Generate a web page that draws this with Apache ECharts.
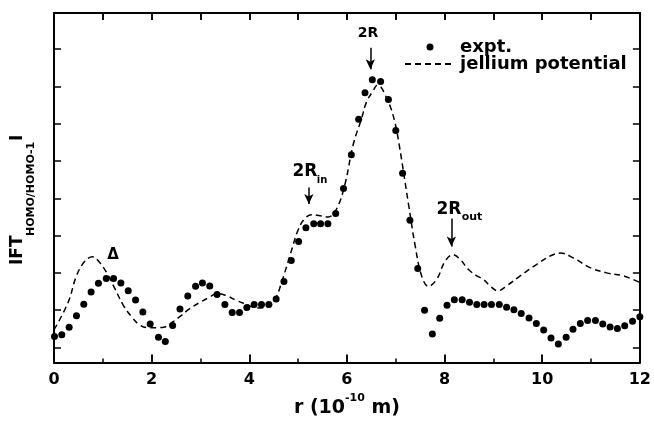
<!DOCTYPE html>
<html>
<head>
<meta charset="utf-8">
<script src="https://cdn.jsdelivr.net/npm/echarts@6/dist/echarts.min.js"></script>
<style>
  html, body { margin: 0; padding: 0; background: #fff; }
  #chart { width: 654px; height: 423px; }
</style>
</head>
<body>
<div id="chart"></div>
<script>
// experimental points (r in 1e-10 m, |FT| in tick units)
var exptR = [0.01, 0.16, 0.31, 0.46, 0.61, 0.76, 0.91, 1.07, 1.22, 1.37, 1.52, 1.67, 1.82, 1.97,
    2.14, 2.28, 2.43, 2.58, 2.74, 2.90, 3.04, 3.19, 3.34, 3.50, 3.65, 3.80, 3.95, 4.10, 4.25,
    4.40, 4.55, 4.71, 4.86, 5.01, 5.16, 5.32, 5.46, 5.61, 5.77, 5.93, 6.09, 6.24, 6.37, 6.52,
    6.69, 6.85, 7.00, 7.14, 7.29, 7.45, 7.59, 7.75, 7.90, 8.05, 8.20, 8.36, 8.51, 8.66, 8.81,
    8.96, 9.12, 9.27, 9.42, 9.57, 9.73, 9.88, 10.03, 10.18, 10.33, 10.49, 10.63, 10.78, 10.93,
    11.09, 11.24, 11.39, 11.54, 11.69, 11.85, 12.00];
var exptFT = [0.29, 0.34, 0.54, 0.85, 1.16, 1.49, 1.72, 1.85, 1.85, 1.73, 1.52, 1.27, 0.95, 0.63,
    0.27, 0.16, 0.59, 1.03, 1.38, 1.64, 1.73, 1.65, 1.42, 1.15, 0.94, 0.94, 1.07, 1.15, 1.15,
    1.15, 1.30, 1.77, 2.33, 2.84, 3.21, 3.32, 3.32, 3.32, 3.59, 4.26, 5.17, 6.12, 6.83, 7.18,
    7.13, 6.65, 5.82, 4.67, 3.41, 2.12, 1.00, 0.36, 0.78, 1.13, 1.28, 1.28, 1.21, 1.15, 1.15,
    1.15, 1.15, 1.08, 1.01, 0.91, 0.79, 0.64, 0.47, 0.25, 0.09, 0.27, 0.49, 0.64, 0.72,
    0.72, 0.63, 0.55, 0.51, 0.58, 0.70, 0.82];

// jellium potential curve
var jelR = [0, 0.29, 0.46, 0.63, 0.79, 0.94, 1.08, 1.25, 1.42, 1.59, 1.76, 1.93, 2.1, 2.27,
    2.44, 2.61, 2.78, 2.99, 3.19, 3.34, 3.53, 3.74, 3.95, 4.15, 4.36, 4.53, 4.66, 4.83, 5.0,
    5.14, 5.28, 5.45, 5.62, 5.79, 5.96, 6.13, 6.30, 6.40, 6.54, 6.62, 6.70, 6.78, 6.88, 6.98,
    7.07, 7.26, 7.40, 7.53, 7.67, 7.84, 8.01, 8.17, 8.32, 8.49, 8.66, 8.79, 8.93, 9.09, 9.27,
    9.55, 9.89, 10.16, 10.37, 10.64, 10.98, 11.32, 11.66, 12.0];
var jelFT = [0.47, 1.21, 1.92, 2.31, 2.43, 2.27, 2.0, 1.57, 1.13, 0.82, 0.60, 0.53, 0.53, 0.55,
    0.69, 0.86, 1.04, 1.21, 1.35, 1.45, 1.39, 1.26, 1.15, 1.06, 1.08, 1.30, 1.74, 2.45, 3.15,
    3.46, 3.56, 3.53, 3.50, 3.72, 4.38, 5.45, 6.14, 6.58, 6.89, 7.03, 6.98, 6.78, 6.49, 6.05,
    5.44, 3.85, 2.71, 1.92, 1.64, 1.83, 2.31, 2.49, 2.36, 2.09, 1.92, 1.83, 1.65, 1.52, 1.65,
    1.92, 2.23, 2.45, 2.53, 2.40, 2.14, 2.0, 1.92, 1.74];

var xMajor = [0, 2, 4, 6, 8, 10, 12];
var xMinor = [1, 3, 5, 7, 9, 11];
var xTop = [1, 2, 3, 4, 5, 6, 7, 8, 9, 10, 11];
var yTicks = [0, 1, 2, 3, 4, 5, 6, 7, 8];

var Y_MIN = -0.404, Y_MAX = 8.97;

// arrows: [r, from, to]
var arrows = [[6.48, 8.04, 7.46], [5.22, 4.29, 3.85], [8.14, 3.46, 2.71]];

function pairs(xs, ys) {
    return xs.map(function (x, i) { return [x, ys[i]]; });
}

var FONT = '"DejaVu Sans", sans-serif';

function label(x, y, text, size, rot) {
    return {
        type: 'text', x: x, y: y, rotation: rot || 0, silent: true,
        style: {
            text: text, fill: '#000', font: 'bold ' + size + 'px ' + FONT,
            align: rot ? 'left' : 'center', verticalAlign: 'middle',
            textAlign: rot ? 'left' : 'center', textVerticalAlign: 'middle'
        }
    };
}

function axisLine() {
    return { show: true, onZero: false, lineStyle: { color: '#000', width: 2 } };
}
function tick(len, custom) {
    var t = { show: true, inside: true, length: len, lineStyle: { color: '#000', width: 1.5 } };
    if (custom) t.customValues = custom;
    return t;
}

// inward x ticks as short segments in data units (1 unit = ~37.9 px)
function xTickSegs(vals, from, to) {
    return vals.map(function (v) { return [{ coord: [v, from] }, { coord: [v, to] }]; });
}
var tickSegs = []
    .concat(xTickSegs(xMajor, Y_MIN, Y_MIN + 0.21))
    .concat(xTickSegs(xMinor, Y_MIN, Y_MIN + 0.105))
    .concat(xTickSegs(xTop, Y_MAX, Y_MAX - 0.185));

var chart = echarts.init(document.getElementById('chart'));
chart.setOption({
    backgroundColor: '#fff',
    animation: false,
    grid: { left: 54, right: 13, top: 13, bottom: 55 },
    legend: {
        orient: 'vertical',
        left: 404,
        top: 38,
        padding: 0,
        itemWidth: 50,
        itemHeight: 7,
        itemGap: -1,
        selectedMode: false,
        textStyle: { fontFamily: FONT, fontWeight: 'bold', fontSize: 18, lineHeight: 16, color: '#000' },
        data: [
            { name: 'expt.' },
            { name: 'jellium potential', itemStyle: { opacity: 0 } }
        ]
    },
    xAxis: [{
        type: 'value', min: 0, max: 12, interval: 2,
        axisLine: axisLine(),
        axisTick: tick(8),
        splitLine: { show: false },
        axisLabel: {
            show: true, margin: 9, color: '#000', fontFamily: FONT, fontWeight: 'bold', fontSize: 16, lineHeight: 16
        },
        name: '{a|r (10}{s|-10}{a| m)}',
        nameLocation: 'middle',
        nameGap: 30,
        nameTextStyle: {
            rich: {
                a: { fontFamily: FONT, fontWeight: 'bold', fontSize: 19, lineHeight: 32, color: '#000' },
                s: { fontFamily: FONT, fontWeight: 'bold', fontSize: 11, lineHeight: 11, verticalAlign: 'top', color: '#000' }
            }
        }
    }, {
        type: 'value', min: 0, max: 12, interval: 1, position: 'top',
        axisLine: axisLine(),
        axisTick: tick(7),
        axisLabel: { show: false },
        splitLine: { show: false }
    }],
    yAxis: [{
        type: 'value', min: Y_MIN, max: Y_MAX,
        axisLine: axisLine(),
        axisTick: tick(7, yTicks),
        axisLabel: { show: false },
        splitLine: { show: false }
    }, {
        type: 'value', min: Y_MIN, max: Y_MAX, position: 'right',
        axisLine: axisLine(),
        axisTick: tick(7, yTicks),
        axisLabel: { show: false },
        splitLine: { show: false }
    }],
    series: [{
        name: 'expt.',
        type: 'scatter',
        symbol: 'circle',
        symbolSize: 7,
        itemStyle: { color: '#000', opacity: 1 },
        data: pairs(exptR, exptFT),
        markLine: {
            silent: true,
            symbol: ['none', 'arrow'],
            symbolSize: [7, 10],
            label: { show: false },
            lineStyle: { color: '#000', width: 1.5, type: 'solid' },
            data: arrows.map(function (a) {
                return [{ coord: [a[0], a[1]] }, { coord: [a[0], a[2]] }];
            })
        }
    }, {
        name: 'jellium potential',
        type: 'line',
        showSymbol: false,
        symbol: 'none',
        smooth: 0.4,
        lineStyle: { color: '#000', width: 1.5, type: [6, 4] },
        itemStyle: { color: '#000' },
        data: pairs(jelR, jelFT),
        markLine: {
            silent: true,
            symbol: ['none', 'none'],
            label: { show: false },
            lineStyle: { color: '#000', width: 1.5, type: 'solid' },
            data: tickSegs
        }
    }],
    graphic: [
        label(368, 33, '2R', 14),
        label(305, 172, '2R', 17),
        label(322, 180, 'in', 10),
        label(449, 210, '2R', 17),
        label(472, 217, 'out', 11),
        label(113, 255, '\u0394', 15),
        label(18, 265, 'IFT', 17, Math.PI / 2),
        label(31, 236, 'HOMO/HOMO-1', 11, Math.PI / 2),
        label(18, 141, 'I', 17, Math.PI / 2)
    ]
});
</script>
</body>
</html>
